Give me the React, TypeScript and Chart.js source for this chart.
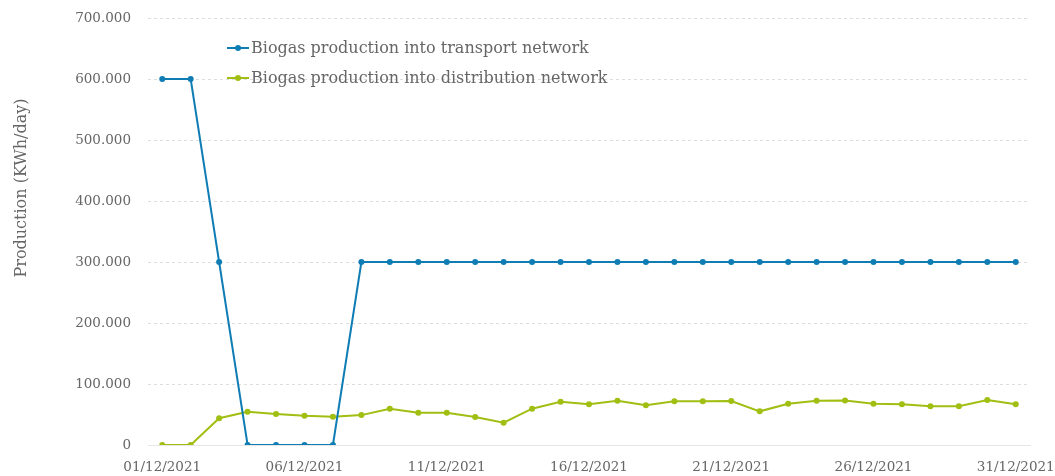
import React, { useEffect, useRef } from "react";
import { Chart, registerables } from "chart.js";

Chart.register(...registerables);

const dates: string[] = Array.from({ length: 31 }, (_, i) =>
  `${String(i + 1).padStart(2, "0")}/12/2021`
);

const transportLabel = "Biogas production into transport network";
const distributionLabel = "Biogas production into distribution network";
const yTitle = "Production (KWh/day)";

const transportValues: number[] = [
  600000, 600000, 300000, 0, 0, 0, 0, 300000, 300000, 300000, 300000,
  300000, 300000, 300000, 300000, 300000, 300000, 300000, 300000, 300000,
  300000, 300000, 300000, 300000, 300000, 300000, 300000, 300000, 300000,
  300000, 300000,
];

const distributionValues: number[] = [
  0, 0, 44000, 54600, 50800, 48000, 46400, 49000, 59500, 53000, 53000,
  46000, 36600, 59500, 71000, 66700, 72600, 65000, 71600, 71600, 72000,
  55200, 67700, 72600, 73000, 67700, 67000, 63400, 63400, 73800, 66700,
];

const yTickValues: number[] = [0, 100000, 200000, 300000, 400000, 500000, 600000, 700000];

const FONT = "'DejaVu Serif', serif";
const TEXT = "#666666";
const BLUE = "#0f7db4";
const GREEN = "#a0bf12";

const fmt = (v: number) =>
  Math.round(v).toString().replace(/\B(?=(\d{3})+(?!\d))/g, ".");

const legendPlugin = {
  id: "innerLegend",
  afterDraw(chart: any) {
    const ctx = chart.ctx;
    const x0 = 227;
    const ys = [48, 78];
    ctx.save();
    chart.data.datasets.forEach((ds: any, i: number) => {
      const y = ys[i];
      ctx.strokeStyle = ds.borderColor;
      ctx.lineWidth = 2;
      ctx.beginPath();
      ctx.moveTo(x0, y);
      ctx.lineTo(x0 + 22, y);
      ctx.stroke();
      ctx.fillStyle = ds.borderColor;
      ctx.beginPath();
      ctx.arc(x0 + 11, y, 3, 0, Math.PI * 2);
      ctx.fill();
      ctx.fillStyle = TEXT;
      ctx.font = `16px ${FONT}`;
      ctx.textBaseline = "middle";
      ctx.textAlign = "left";
      ctx.fillText(ds.label, x0 + 24, y + 1);
    });
    // y axis title
    ctx.translate(22, 188);
    ctx.rotate(-Math.PI / 2);
    ctx.fillStyle = TEXT;
    ctx.font = `16px ${FONT}`;
    ctx.textAlign = "center";
    ctx.textBaseline = "middle";
    ctx.fillText(yTitle, 0, 0);
    ctx.restore();
  },
};

export default function App() {
  const ref = useRef<HTMLCanvasElement | null>(null);
  useEffect(() => {
    document.body.style.margin = "0";
    if (!ref.current) return;
    const chart = new Chart(ref.current, {
      type: "line",
      data: {
        labels: dates,
        datasets: [
          {
            label: transportLabel,
            data: transportValues,
            borderColor: BLUE,
            backgroundColor: BLUE,
            borderWidth: 2,
            pointRadius: 3,
            pointBackgroundColor: BLUE,
            pointBorderWidth: 0,
            tension: 0,
          },
          {
            label: distributionLabel,
            data: distributionValues,
            borderColor: GREEN,
            backgroundColor: GREEN,
            borderWidth: 2,
            pointRadius: 3,
            pointBackgroundColor: GREEN,
            pointBorderWidth: 0,
            tension: 0,
          },
        ],
      },
      options: {
        animation: false,
        responsive: false,
        layout: { padding: { left: 0, right: 25, top: 18, bottom: 0 } },
        plugins: {
          legend: { display: false },
          tooltip: { enabled: false },
        },
        scales: {
          x: {
            offset: true,
            grid: { display: false },
            border: { display: true, color: "#e6e6e6", width: 1 },
            ticks: {
              autoSkip: false,
              maxRotation: 0,
              color: TEXT,
              font: { family: FONT, size: 13.5 },
              padding: 6,
              callback: (_v: any, i: number) => (i % 5 === 0 ? dates[i] : ""),
            },
            afterFit: (s: any) => {
              s.height = 31;
              s.paddingLeft = 0;
              s.paddingRight = 0;
            },
          },
          y: {
            min: 0,
            max: 700000,
            afterBuildTicks: (s: any) => {
              s.ticks = yTickValues.map((v) => ({ value: v }));
            },
            grid: {
              color: (c: any) => (c.tick && c.tick.value === 0 ? "#e6e6e6" : "#dddddd"),
              lineWidth: 1,
              drawTicks: false,
            },
            border: {
              display: false,
              dash: (c: any) => (c.tick && c.tick.value === 0 ? [] : [3, 3]),
            },
            ticks: {
              color: TEXT,
              font: { family: FONT, size: 13.5 },
              padding: 17,
              callback: (v: any) => fmt(Number(v)),
            },
            title: { display: false },
            afterFit: (s: any) => {
              s.width = 148;
              s.paddingTop = 0;
              s.paddingBottom = 0;
            },
          },
        },
      },
      plugins: [legendPlugin],
    });
    return () => chart.destroy();
  }, []);
  return (
    <div style={{ width: 1055, height: 476 }}>
      <canvas ref={ref} width={1055} height={476} style={{ display: "block" }} />
    </div>
  );
}
